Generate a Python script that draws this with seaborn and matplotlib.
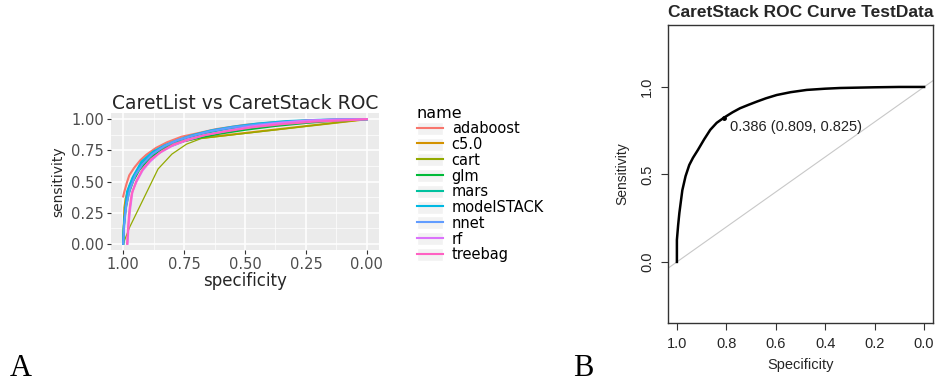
import pandas as pd
import seaborn as sns
import matplotlib.pyplot as plt
from matplotlib.lines import Line2D
from matplotlib.patches import Patch
from matplotlib.legend_handler import HandlerTuple
from matplotlib.ticker import MultipleLocator

# Panel A: ROC curves per model (specificity, sensitivity)
models = ["adaboost", "c5.0", "cart", "glm", "mars", "modelSTACK", "nnet", "rf", "treebag"]
colors = ["#F8766D", "#D39200", "#93AA00", "#00BA38", "#00C19F", "#00B9E3", "#619CFF", "#DB72FB", "#FF61C3"]

spec_adaboost = [1.0, 0.995, 0.985, 0.975, 0.955, 0.93, 0.905, 0.865, 0.82, 0.76, 0.70, 0.62, 0.50, 0.38, 0.25, 0.12, 0.0]
sens_adaboost = [0.38, 0.42, 0.49, 0.55, 0.61, 0.67, 0.715, 0.77, 0.815, 0.86, 0.885, 0.92, 0.955, 0.975, 0.99, 0.997, 1.0]
spec_c50 = [1.0, 0.995, 0.99, 0.975, 0.955, 0.925, 0.88, 0.83, 0.77, 0.70, 0.0]
sens_c50 = [0.0, 0.29, 0.36, 0.46, 0.55, 0.63, 0.71, 0.77, 0.815, 0.845, 1.0]
spec_cart = [1.0, 0.973, 0.857, 0.80, 0.74, 0.68, 0.0]
sens_cart = [0.0, 0.135, 0.60, 0.72, 0.80, 0.845, 1.0]
spec_glm = [1.0, 0.997, 0.99, 0.978, 0.96, 0.935, 0.90, 0.86, 0.81, 0.75, 0.68, 0.60, 0.50, 0.38, 0.25, 0.12, 0.0]
sens_glm = [0.0, 0.15, 0.28, 0.40, 0.50, 0.59, 0.67, 0.73, 0.78, 0.825, 0.855, 0.885, 0.915, 0.945, 0.97, 0.99, 1.0]
spec_mars = [1.0, 0.996, 0.988, 0.975, 0.955, 0.93, 0.895, 0.85, 0.80, 0.74, 0.67, 0.58, 0.47, 0.35, 0.22, 0.10, 0.0]
sens_mars = [0.0, 0.18, 0.32, 0.44, 0.54, 0.63, 0.70, 0.76, 0.81, 0.85, 0.885, 0.92, 0.95, 0.975, 0.99, 0.998, 1.0]
spec_stack = [1.0, 0.997, 0.992, 0.984, 0.962, 0.925, 0.877, 0.83, 0.78, 0.72, 0.64, 0.55, 0.45, 0.33, 0.2, 0.08, 0.0]
sens_stack = [0.0, 0.14, 0.26, 0.42, 0.53, 0.66, 0.74, 0.79, 0.83, 0.87, 0.91, 0.94, 0.965, 0.985, 0.995, 1.0, 1.0]
spec_nnet = [1.0, 0.995, 0.987, 0.972, 0.95, 0.92, 0.88, 0.83, 0.78, 0.72, 0.64, 0.55, 0.44, 0.32, 0.2, 0.08, 0.0]
sens_nnet = [0.0, 0.17, 0.31, 0.44, 0.55, 0.64, 0.72, 0.785, 0.83, 0.865, 0.905, 0.935, 0.96, 0.98, 0.993, 0.999, 1.0]
spec_rf = [0.982, 0.978, 0.972, 0.962, 0.945, 0.92, 0.89, 0.85, 0.80, 0.74, 0.67, 0.58, 0.48, 0.36, 0.24, 0.12, 0.0]
sens_rf = [0.0, 0.15, 0.27, 0.42, 0.50, 0.59, 0.66, 0.73, 0.785, 0.83, 0.87, 0.905, 0.94, 0.97, 0.99, 0.998, 1.0]
spec_treebag = [0.984, 0.98, 0.975, 0.965, 0.947, 0.92, 0.885, 0.84, 0.79, 0.73, 0.66, 0.57, 0.47, 0.35, 0.22, 0.10, 0.0]
sens_treebag = [0.0, 0.12, 0.26, 0.40, 0.50, 0.60, 0.68, 0.745, 0.80, 0.84, 0.875, 0.905, 0.935, 0.96, 0.98, 0.99, 1.0]

# Panel B: stacked model ROC on test data
spec_b = [1.0, 1.0, 0.995, 0.99, 0.978, 0.965, 0.95, 0.935, 0.915, 0.89, 0.865, 0.839, 0.809, 0.775,
          0.745, 0.71, 0.677, 0.64, 0.596, 0.54, 0.475, 0.40, 0.34, 0.2, 0.1, 0.0]
sens_b = [0.0, 0.126, 0.21, 0.28, 0.41, 0.49, 0.554, 0.595, 0.64, 0.70, 0.755, 0.795, 0.825, 0.855,
          0.878, 0.898, 0.916, 0.935, 0.954, 0.97, 0.983, 0.99, 0.994, 0.998, 1.0, 1.0]
thr_label = "0.386 (0.809, 0.825)"
thr_spec, thr_sens = 0.809, 0.825

curves = {
    "adaboost": (spec_adaboost, sens_adaboost), "c5.0": (spec_c50, sens_c50),
    "cart": (spec_cart, sens_cart), "glm": (spec_glm, sens_glm),
    "mars": (spec_mars, sens_mars), "modelSTACK": (spec_stack, sens_stack),
    "nnet": (spec_nnet, sens_nnet), "rf": (spec_rf, sens_rf),
    "treebag": (spec_treebag, sens_treebag),
}
rows = []
for m in models:
    sp, se = curves[m]
    for a, b in zip(sp, se):
        rows.append({"name": m, "specificity": a, "sensitivity": b})
df = pd.DataFrame(rows)

fig = plt.figure(figsize=(9.44, 3.85), dpi=100)

# ---- panel A (ggplot look) ----
with sns.axes_style("darkgrid", {"axes.facecolor": "#EBEBEB", "grid.color": "white"}):
    ax1 = fig.add_axes([111 / 944, 1 - 250 / 385, 268 / 944, 137 / 385])
sns.lineplot(data=df, x="specificity", y="sensitivity", hue="name", hue_order=models,
             palette=colors, estimator=None, sort=False, linewidth=1.5, legend=False, ax=ax1)
# cart has few points, so it draws as a thin line
ax1.lines[2].set_linewidth(0.9)
ax1.set_xlim(1.05, -0.05)
ax1.set_ylim(-0.05, 1.05)
ax1.xaxis.set_minor_locator(MultipleLocator(0.125))
ax1.yaxis.set_minor_locator(MultipleLocator(0.125))
ax1.grid(which="major", color="white", linewidth=1.1)
ax1.grid(which="minor", color="white", linewidth=0.5)
ax1.set_xticks([1.0, 0.75, 0.5, 0.25, 0.0])
ax1.set_xticklabels(["1.00", "0.75", "0.50", "0.25", "0.00"])
ax1.set_yticks([0.0, 0.25, 0.5, 0.75, 1.0])
ax1.set_yticklabels(["0.00", "0.25", "0.50", "0.75", "1.00"])
for s in ax1.spines.values():
    s.set_visible(False)
ax1.tick_params(which="major", length=3, width=0.8, color="#333333", labelcolor="#4D4D4D",
                labelsize=10.5, pad=2, bottom=True, left=True)
ax1.tick_params(which="minor", length=0)
for lab in ax1.get_xticklabels() + ax1.get_yticklabels():
    lab.set_family("DejaVu Sans")
ax1.set_xlabel("specificity", fontsize=12, family="DejaVu Sans", labelpad=0)
ax1.set_ylabel("sensitivity", fontsize=10, family="DejaVu Sans", labelpad=4)
ax1.set_title("CaretList vs CaretStack ROC", fontsize=13.5, family="DejaVu Sans", pad=3)

handles = [(Patch(facecolor="#F2F2F2", edgecolor="white"), Line2D([], [], color=c, lw=1.5)) for c in colors]
leg = fig.legend(handles, models, loc="upper left", bbox_to_anchor=(408 / 944, 1 - 97 / 385),
                 frameon=False, title="name", alignment="left", prop={"family": "DejaVu Sans", "size": 10.5},
                 title_fontproperties={"family": "DejaVu Sans", "size": 11.5},
                 handler_map={tuple: HandlerTuple(ndivide=1)}, handlelength=1.8, handleheight=1.0,
                 labelspacing=0.05, handletextpad=0.6, borderpad=0.1)

# ---- panel B (base R pROC look) ----
with sns.axes_style("white"):
    ax2 = fig.add_axes([668 / 944, 1 - 323 / 385, 265 / 944, 298 / 385])
ax2.axline((1.0, 0.0), (0.0, 1.0), color="#C8C8C8", linewidth=0.8)
sns.lineplot(x=spec_b, y=sens_b, color="black", linewidth=1.8, estimator=None, sort=False, ax=ax2)
ax2.plot([thr_spec], [thr_sens], "o", color="black", markersize=2.5)
ax2.text(thr_spec - 0.025, thr_sens - 0.012, thr_label, ha="left", va="top", fontsize=10.5,
         family="Liberation Sans", color="#222222")
ax2.set_xlim(1.036, -0.036)
ax2.set_ylim(-0.349, 1.354)
ax2.set_xticks([1.0, 0.8, 0.6, 0.4, 0.2, 0.0])
ax2.set_xticklabels(["1.0", "0.8", "0.6", "0.4", "0.2", "0.0"])
ax2.set_yticks([0.0, 0.5, 1.0])
ax2.set_yticklabels(["0.0", "0.5", "1.0"], rotation=90, va="center")
for s in ax2.spines.values():
    s.set_visible(True)
    s.set_color("#333333")
    s.set_linewidth(1.0)
ax2.tick_params(length=5, width=0.8, color="#333333", labelsize=10.5, pad=5, bottom=True, left=True)
for lab in ax2.get_xticklabels() + ax2.get_yticklabels():
    lab.set_family("Liberation Sans")
ax2.set_xlabel("Specificity", fontsize=10.5, family="Liberation Sans", labelpad=5)
ax2.set_ylabel("Sensitivity", fontsize=10, family="Liberation Sans", labelpad=8)
ax2.set_title("CaretStack ROC Curve TestData", fontsize=12.5, fontweight="bold",
              family="Liberation Sans", pad=6)

fig.text(10 / 944, 1 - 376 / 385, "A", fontsize=22, family="Liberation Serif")
fig.text(573 / 944, 1 - 376 / 385, "B", fontsize=22, family="Liberation Serif")

fig.savefig("out.png", dpi=100)
